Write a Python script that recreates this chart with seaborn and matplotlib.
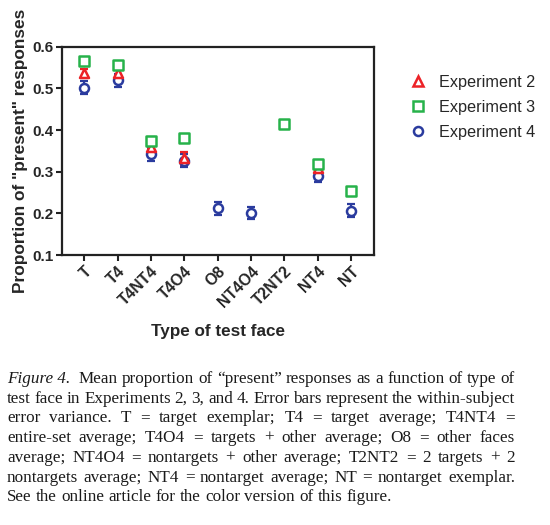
import numpy as np
import pandas as pd
import matplotlib
matplotlib.use("Agg")
import matplotlib.pyplot as plt
import seaborn as sns
from matplotlib.lines import Line2D

categories = ["T", "T4", "T4NT4", "T4O4", "O8", "NT4O4", "T2NT2", "NT4", "NT"]
exp2_mean = [0.537, 0.537, 0.360, 0.332, np.nan, np.nan, np.nan, 0.310, np.nan]
exp2_err = [0.010, 0.010, 0.010, 0.015, np.nan, np.nan, np.nan, 0.010, np.nan]
exp3_mean = [0.565, 0.555, 0.375, 0.380, np.nan, np.nan, 0.415, 0.318, 0.253]
exp3_err = [0.008, 0.008, 0.008, 0.008, np.nan, np.nan, 0.006, 0.008, 0.006]
exp4_mean = [0.502, 0.519, 0.342, 0.327, 0.212, 0.201, np.nan, 0.290, 0.207]
exp4_err = [0.015, 0.015, 0.015, 0.015, 0.015, 0.015, np.nan, 0.015, 0.015]
series_names = ["Experiment 2", "Experiment 3", "Experiment 4"]

colors = {"Experiment 2": "#ec2227", "Experiment 3": "#27b24a", "Experiment 4": "#2a3b9e"}
markers = {"Experiment 2": "^", "Experiment 3": "s", "Experiment 4": "o"}

rows = []
for name, m, e in zip(series_names, [exp2_mean, exp3_mean, exp4_mean],
                      [exp2_err, exp3_err, exp4_err]):
    for c, mv, ev in zip(categories, m, e):
        if not np.isnan(mv):
            rows.append({"face": c, "prop": mv, "err": ev, "exp": name})
df = pd.DataFrame(rows)

sns.set_style("ticks")
plt.rcParams["font.family"] = ["Liberation Sans", "DejaVu Sans"]

fig = plt.figure(figsize=(5.5, 5.25), dpi=100)
ax = fig.add_axes([0.113, 0.514, 0.567, 0.397])

draw_order = ["Experiment 4", "Experiment 2", "Experiment 3"]
for name in draw_order:
    sub = df[df["exp"] == name]
    xs = [categories.index(f) for f in sub["face"]]
    ax.errorbar(xs, sub["prop"], yerr=sub["err"], fmt="none", ecolor=colors[name],
                elinewidth=1.6, capsize=3, capthick=1.6, zorder=3)
    sns.scatterplot(x=xs, y=sub["prop"].values, marker=markers[name], s=42,
                    facecolor="white", edgecolor=colors[name], linewidth=1.8,
                    zorder=4, ax=ax, legend=False)

ax.set_xticks(range(len(categories)))
ax.set_xticklabels(categories, rotation=45, ha="right", rotation_mode="anchor",
                   fontweight="bold", fontsize=11.3)
ax.set_xlim(-0.66, 8.69)
ax.set_ylim(0.1, 0.6)
ax.set_yticks([0.1, 0.2, 0.3, 0.4, 0.5, 0.6])
ax.set_yticklabels(["0.1", "0.2", "0.3", "0.4", "0.5", "0.6"], fontweight="bold", fontsize=11)
for s in ax.spines.values():
    s.set_linewidth(1.6)
    s.set_color("#222222")
ax.tick_params(axis="both", direction="out", width=1.5, length=4, color="#222222", pad=2)
ax.set_ylabel('Proportion of "present" responses', fontweight="bold", fontsize=12.4, labelpad=3)
ax.set_xlabel("Type of test face", fontweight="bold", fontsize=12.3, labelpad=10)

handles = [Line2D([], [], linestyle="none", marker=markers[n], markersize=6.5,
                  markerfacecolor="white", markeredgecolor=colors[n], markeredgewidth=1.8)
           for n in series_names]
fig.legend(handles, series_names, loc="upper left", bbox_to_anchor=(0.716, 0.885),
           frameon=False, fontsize=11.7, handletextpad=0.7, labelspacing=0.62,
           handlelength=1.2)

# caption, justified
caption_lines = [
    ([("Figure 4.", "italic"), ("", "normal"), ("Mean", "normal"), ("proportion", "normal"), ("of", "normal"),
      ("\u201cpresent\u201d", "normal"), ("responses", "normal"), ("as", "normal"), ("a", "normal"),
      ("function", "normal"), ("of", "normal"), ("type", "normal"), ("of", "normal")], True),
    ("test face in Experiments 2, 3, and 4. Error bars represent the within-subject", True),
    ("error variance. T = target exemplar; T4 = target average; T4NT4 =", True),
    ("entire-set average; T4O4 = targets + other average; O8 = other faces", True),
    ("average; NT4O4 = nontargets + other average; T2NT2 = 2 targets + 2", True),
    ("nontargets average; NT4 = nontarget average; NT = nontarget exemplar.", True),
    ("See the online article for the color version of this figure.", False),
]
FS = 12.3
fig.canvas.draw()
renderer = fig.canvas.get_renderer()
W, H = 550, 525
x0, x1 = 7, 515
y_top = 379
dy = 19.7
probe1 = fig.text(0, 0, "a a", fontsize=FS, family=["Liberation Serif"])
probe2 = fig.text(0, 0, "aa", fontsize=FS, family=["Liberation Serif"])
sw = probe1.get_window_extent(renderer).width - probe2.get_window_extent(renderer).width
probe1.remove()
probe2.remove()
for i, (line, justify) in enumerate(caption_lines):
    if isinstance(line, str):
        words = [(w, "normal") for w in line.split(" ")]
    else:
        words = line
    y = 1 - (y_top + i * dy) / H
    texts = []
    for w, st in words:
        t = fig.text(0, y, w, fontsize=FS, family=["Liberation Serif", "DejaVu Serif"],
                     style=st, va="center", ha="left", color="#1a1a1a")
        texts.append(t)
    widths = [t.get_window_extent(renderer).width if t.get_text() else 0 for t in texts]
    n_gaps = len(texts) - 1
    if justify and n_gaps > 0:
        gap = (x1 - x0 - sum(widths)) / n_gaps
    else:
        gap = sw
    x = x0
    for t, w in zip(texts, widths):
        t.set_x(x / W)
        x += w + gap

fig.savefig("out.png", dpi=100)
